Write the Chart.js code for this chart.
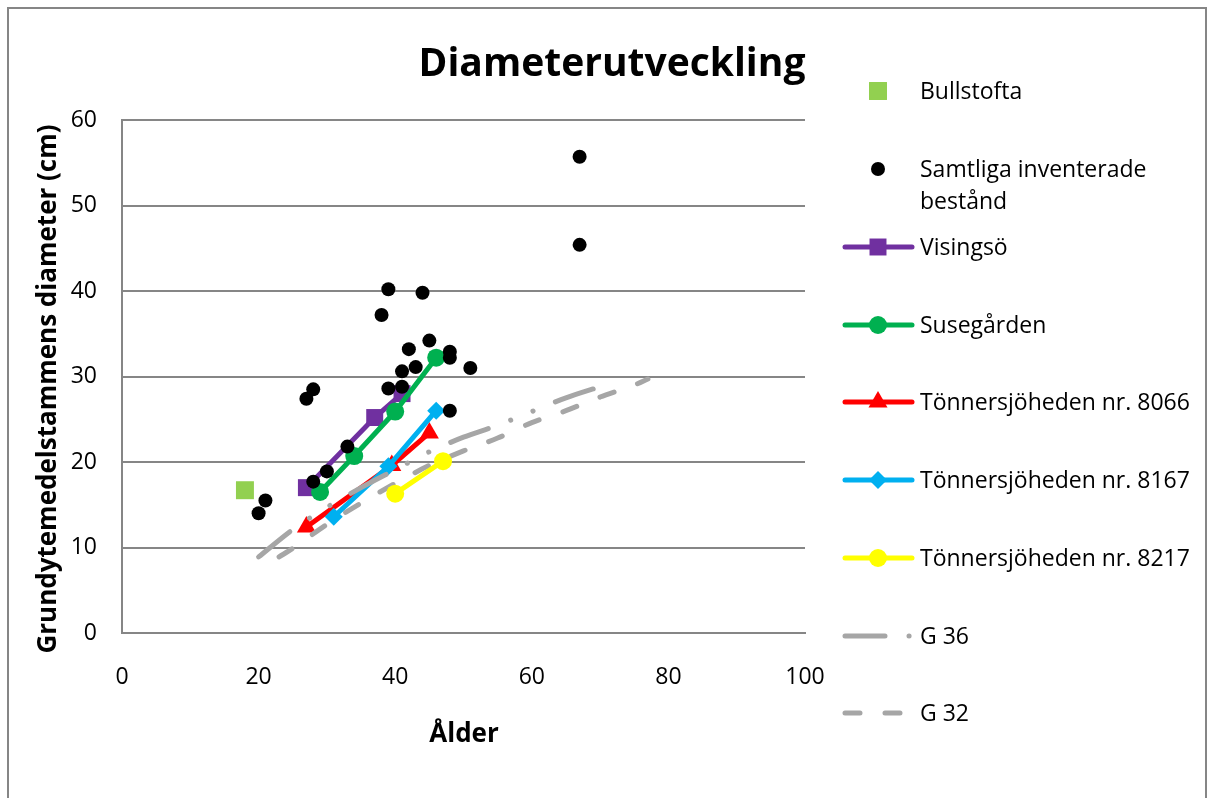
<!DOCTYPE html>
<html>
<head>
<meta charset="utf-8">
<title>Diameterutveckling</title>
<script src="https://cdn.jsdelivr.net/npm/chart.js@4.4.1/dist/chart.umd.min.js"></script>
<style>
  html, body { margin: 0; padding: 0; background: #fff; overflow: hidden; }
  #wrap { position: relative; width: 1214px; height: 798px; }
  #frame { position: absolute; left: 7px; top: 7px; width: 1200px; height: 900px; border: 2px solid #868686; box-sizing: border-box; }
  #diamChart { position: absolute; left: 0; top: 0; }
</style>
</head>
<body>
<div id="wrap">
  <div id="frame"></div>
  <canvas id="diamChart" width="1214" height="798"></canvas>
</div>
<script>
// Data (ålder i år, diameter i cm)
const bullstoftaAge = [18];
const bullstoftaDiam = [16.7];

const allAge = [67, 67, 39, 44, 38, 45, 42, 48, 48, 51, 41, 43, 39, 41, 28, 27, 48, 33, 30, 28, 21, 20];
const allDiam = [55.7, 45.4, 40.2, 39.8, 37.2, 34.2, 33.2, 32.9, 32.2, 31.0, 30.6, 31.1, 28.6, 28.8, 28.5, 27.4, 26.0, 21.8, 18.9, 17.7, 15.5, 14.0];

const visingsoAge = [27, 37, 41];
const visingsoDiam = [17.0, 25.2, 28.0];

const susegardenAge = [29, 34, 40, 46];
const susegardenDiam = [16.5, 20.7, 25.9, 32.2];

const t8066Age = [27, 39.5, 45];
const t8066Diam = [12.4, 19.6, 23.4];

const t8167Age = [31, 39, 46];
const t8167Diam = [13.6, 19.5, 26.0];

const t8217Age = [40, 47];
const t8217Diam = [16.3, 20.1];

const g36Age = [20, 25, 30, 35, 40, 45, 50, 55, 60, 65, 70, 72];
const g36Diam = [8.9, 12.1, 14.7, 17.0, 19.1, 21.2, 22.9, 24.3, 25.9, 27.5, 28.8, 29.3];

const g32Age = [23, 25, 30, 35, 40, 45, 50, 55, 60, 65, 70, 75, 77];
const g32Diam = [8.9, 9.9, 12.7, 15.2, 17.5, 19.6, 21.3, 22.8, 24.6, 26.0, 27.6, 29.0, 29.7];

const xTicks = [0, 20, 40, 60, 80, 100];
const yTicks = [0, 10, 20, 30, 40, 50, 60];

const chartTitle = 'Diameterutveckling';
const xTitle = 'Ålder';
const yTitle = 'Grundytemedelstammens diameter (cm)';

const FONT = '"Open Sans", "Noto Sans", sans-serif';

function toPoints(xs, ys) {
  return xs.map((x, i) => ({ x: x, y: ys[i] }));
}

const datasets = [
  {
    label: 'Bullstofta', data: toPoints(bullstoftaAge, bullstoftaDiam),
    showLine: false, backgroundColor: '#92D050', borderColor: '#92D050',
    pointStyle: 'rect', pointRadius: 12.7, pointBorderWidth: 0, order: 8
  },
  {
    label: 'Samtliga inventerade bestånd', data: toPoints(allAge, allDiam),
    showLine: false, backgroundColor: '#000000', borderColor: '#000000',
    pointStyle: 'circle', pointRadius: 7, pointBorderWidth: 0, order: 0
  },
  {
    label: 'Visingsö', data: toPoints(visingsoAge, visingsoDiam),
    showLine: true, borderWidth: 5, borderColor: '#7030A0', backgroundColor: '#7030A0',
    pointStyle: 'rect', pointRadius: 12, pointBorderWidth: 0, order: 7
  },
  {
    label: 'Susegården', data: toPoints(susegardenAge, susegardenDiam),
    showLine: true, borderWidth: 5, borderColor: '#00B050', backgroundColor: '#00B050',
    pointStyle: 'circle', pointRadius: 9, pointBorderWidth: 0, order: 6
  },
  {
    label: 'Tönnersjöheden nr. 8066', data: toPoints(t8066Age, t8066Diam),
    showLine: true, borderWidth: 5, borderColor: '#FF0000', backgroundColor: '#FF0000',
    pointStyle: 'triangle', pointRadius: 11, pointBorderWidth: 0, order: 5
  },
  {
    label: 'Tönnersjöheden nr. 8167', data: toPoints(t8167Age, t8167Diam),
    showLine: true, borderWidth: 5, borderColor: '#00B0F0', backgroundColor: '#00B0F0',
    pointStyle: 'rectRot', pointRadius: 9, pointBorderWidth: 0, order: 4
  },
  {
    label: 'Tönnersjöheden nr. 8217', data: toPoints(t8217Age, t8217Diam),
    showLine: true, borderWidth: 5, borderColor: '#FFFF00', backgroundColor: '#FFFF00',
    pointStyle: 'circle', pointRadius: 9, pointBorderWidth: 0, order: 1
  },
  {
    label: 'G 36', data: toPoints(g36Age, g36Diam),
    showLine: true, borderWidth: 5, borderColor: '#A6A6A6', backgroundColor: '#A6A6A6',
    borderDash: [40, 24, 0.1, 24, 0.1, 24], borderCapStyle: 'round', tension: 0.3,
    pointRadius: 0, order: 3
  },
  {
    label: 'G 32', data: toPoints(g32Age, g32Diam),
    showLine: true, borderWidth: 5, borderColor: '#A6A6A6', backgroundColor: '#A6A6A6',
    borderDash: [15, 25], borderCapStyle: 'round', tension: 0.3,
    pointRadius: 0, order: 2
  }
];

datasets.forEach(ds => {
  if (ds.showLine && !ds.borderCapStyle) ds.borderCapStyle = 'round';
  ds.pointHoverRadius = ds.pointRadius;
});

// legend rows: text baselines, one entry per dataset (two lines for the long one)
const legendRows = [
  { lines: ['Bullstofta'], base: 99 },
  { lines: ['Samtliga inventerade', 'bestånd'], base: 177 },
  { lines: ['Visingsö'], base: 255 },
  { lines: ['Susegården'], base: 333 },
  { lines: ['Tönnersjöheden nr. 8066'], base: 410 },
  { lines: ['Tönnersjöheden nr. 8167'], base: 488 },
  { lines: ['Tönnersjöheden nr. 8217'], base: 566 },
  { lines: ['G 36'], base: 644 },
  { lines: ['G 32'], base: 721 }
];

const sidePanel = {
  id: 'sidePanel',
  afterDraw(chart) {
    const ctx = chart.ctx;
    ctx.save();
    ctx.fillStyle = '#000';

    // chart title
    ctx.font = 'bold 39px ' + FONT;
    ctx.textAlign = 'center';
    ctx.textBaseline = 'alphabetic';
    ctx.fillText(chartTitle, 612, 76);

    // axis titles
    ctx.font = 'bold 26px ' + FONT;
    ctx.fillText(xTitle, 464, 742);
    ctx.save();
    ctx.translate(56, 389);
    ctx.rotate(-Math.PI / 2);
    ctx.fillText(yTitle, 0, 0);
    ctx.restore();

    // legend
    ctx.textAlign = 'left';
    legendRows.forEach((row, i) => {
      const ds = chart.data.datasets[i];
      const cy = row.base - 8;
      ctx.save();
      if (ds.showLine) {
        ctx.strokeStyle = ds.borderColor;
        ctx.lineWidth = ds.borderWidth;
        ctx.lineCap = 'round';
        ctx.setLineDash(ds.borderDash || []);
        ctx.beginPath();
        ctx.moveTo(845, cy);
        ctx.lineTo(912, cy);
        ctx.stroke();
        ctx.setLineDash([]);
      }
      if (ds.pointRadius > 0) {
        ctx.fillStyle = ds.backgroundColor;
        Chart.helpers.drawPoint(ctx, {
          pointStyle: ds.pointStyle, radius: ds.pointRadius, rotation: 0, borderWidth: 0
        }, 878, cy);
      }
      ctx.restore();
      ctx.fillStyle = '#000';
      ctx.font = '23px ' + FONT;
      row.lines.forEach((t, k) => ctx.fillText(t, 920, row.base + k * 32));
    });
    ctx.restore();
  }
};

const ctx = document.getElementById('diamChart').getContext('2d');
new Chart(ctx, {
  type: 'scatter',
  data: { datasets: datasets },
  options: {
    responsive: false,
    animation: false,
    layout: { padding: { left: 0, top: 120, right: 409, bottom: 105 } },
    plugins: { legend: { display: false }, tooltip: { enabled: false } },
    scales: {
      x: {
        type: 'linear', min: 0, max: 100,
        afterFit: scale => { scale.height = 60; },
        afterBuildTicks: scale => { scale.ticks = xTicks.map(v => ({ value: v })); },
        grid: { display: false, drawTicks: false },
        border: { display: true, color: '#868686', width: 2 },
        ticks: { color: '#000', padding: 31, font: { family: FONT, size: 23 }, maxRotation: 0 }
      },
      y: {
        type: 'linear', min: 0, max: 60,
        afterFit: scale => { scale.width = 122; },
        afterBuildTicks: scale => { scale.ticks = yTicks.map(v => ({ value: v })); },
        grid: { color: '#868686', lineWidth: 2, drawTicks: false },
        border: { display: true, color: '#868686', width: 2 },
        ticks: { color: '#000', padding: 25, font: { family: FONT, size: 23 } }
      }
    }
  },
  plugins: [sidePanel]
});
</script>
</body>
</html>
